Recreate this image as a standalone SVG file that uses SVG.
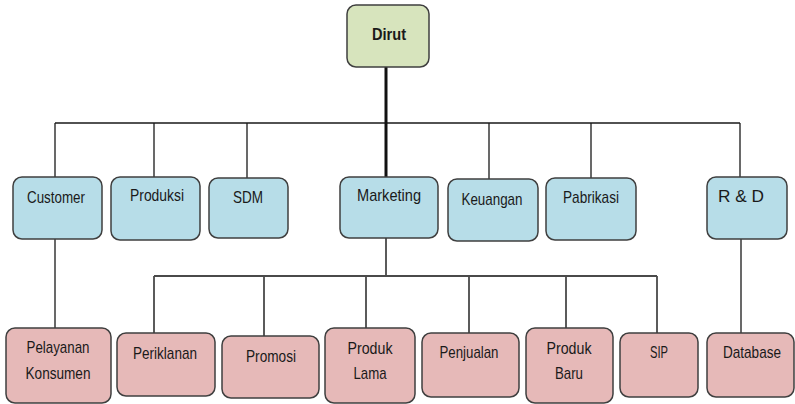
<svg xmlns="http://www.w3.org/2000/svg" width="795" height="404" viewBox="0 0 795 404">
<style>
.box{stroke:#3f3f3f;stroke-width:1.5}
.top{fill:#d7e4bd}
.mid{fill:#b7dde8}
.bot{fill:#e6b9b8}
text{font-family:"Liberation Sans",Arial,sans-serif;font-size:17px;fill:#1a1a1a;text-anchor:middle}
.b{font-weight:bold;font-size:16px}
.c{fill:none;stroke:#1a1a1a;stroke-width:1.3}
.c2{fill:none;stroke:#4a4a4a;stroke-width:1.8}
</style>
<rect width="795" height="404" fill="#ffffff"/>
<g id="connectors">
<path class="c" d="M55,123 H740 M55,123 V177 M154,123 V177 M247,123 V178 M489,123 V179 M591,123 V178 M740,123 V177"/>
<path d="M386,67 V177" fill="none" stroke="#111" stroke-width="3"/>
<path class="c" d="M55,239 V328 M741,239 V333"/>
<path class="c2" d="M386,238 V276 M154,276 H657 M154,276 V333 M264,276 V336 M366,276 V328 M469,276 V333 M566,276 V328 M657,276 V333"/>
</g>
<g id="dirut"><rect class="box top" x="347" y="5" width="82" height="62" rx="9"/><text class="b" x="389" y="40" textLength="34" lengthAdjust="spacingAndGlyphs">Dirut</text></g>
<g id="customer"><rect class="box mid" x="13" y="177" width="89" height="62" rx="9"/><text x="56" y="203" textLength="58" lengthAdjust="spacingAndGlyphs">Customer</text></g>
<g id="produksi"><rect class="box mid" x="111" y="177" width="89" height="63" rx="9"/><text x="157" y="201" textLength="54" lengthAdjust="spacingAndGlyphs">Produksi</text></g>
<g id="sdm"><rect class="box mid" x="209" y="178" width="79" height="60" rx="9"/><text x="248" y="203" textLength="30" lengthAdjust="spacingAndGlyphs">SDM</text></g>
<g id="marketing"><rect class="box mid" x="340" y="177" width="98" height="61" rx="9"/><text x="389" y="201" textLength="64" lengthAdjust="spacingAndGlyphs">Marketing</text></g>
<g id="keuangan"><rect class="box mid" x="448" y="179" width="90" height="62" rx="9"/><text x="492" y="205" textLength="61" lengthAdjust="spacingAndGlyphs">Keuangan</text></g>
<g id="pabrikasi"><rect class="box mid" x="546" y="178" width="90" height="62" rx="9"/><text x="591" y="203" textLength="56" lengthAdjust="spacingAndGlyphs">Pabrikasi</text></g>
<g id="rd"><rect class="box mid" x="707" y="177" width="80" height="62" rx="9"/><text x="741" y="202" textLength="46" lengthAdjust="spacingAndGlyphs">R &amp; D</text></g>
<g id="pelayanan"><rect class="box bot" x="6" y="328" width="105" height="75" rx="9"/><text x="58" y="353" textLength="63" lengthAdjust="spacingAndGlyphs">Pelayanan</text><text x="58" y="379" textLength="65" lengthAdjust="spacingAndGlyphs">Konsumen</text></g>
<g id="periklanan"><rect class="box bot" x="117" y="333" width="98" height="63" rx="9"/><text x="165" y="359" textLength="64" lengthAdjust="spacingAndGlyphs">Periklanan</text></g>
<g id="promosi"><rect class="box bot" x="222" y="336" width="97" height="62" rx="9"/><text x="271" y="362" textLength="50" lengthAdjust="spacingAndGlyphs">Promosi</text></g>
<g id="produklama"><rect class="box bot" x="325" y="328" width="90" height="75" rx="9"/><text x="370" y="354" textLength="45" lengthAdjust="spacingAndGlyphs">Produk</text><text x="370" y="379" textLength="33" lengthAdjust="spacingAndGlyphs">Lama</text></g>
<g id="penjualan"><rect class="box bot" x="422" y="333" width="97" height="64" rx="9"/><text x="469" y="358" textLength="59" lengthAdjust="spacingAndGlyphs">Penjualan</text></g>
<g id="produkbaru"><rect class="box bot" x="526" y="328" width="87" height="75" rx="9"/><text x="569" y="354" textLength="45" lengthAdjust="spacingAndGlyphs">Produk</text><text x="569" y="379" textLength="28" lengthAdjust="spacingAndGlyphs">Baru</text></g>
<g id="sip"><rect class="box bot" x="620" y="333" width="78" height="64" rx="9"/><text x="659" y="358" textLength="18" lengthAdjust="spacingAndGlyphs">SIP</text></g>
<g id="database"><rect class="box bot" x="707" y="333" width="87" height="64" rx="9"/><text x="752" y="358" textLength="58" lengthAdjust="spacingAndGlyphs">Database</text></g>
</svg>
